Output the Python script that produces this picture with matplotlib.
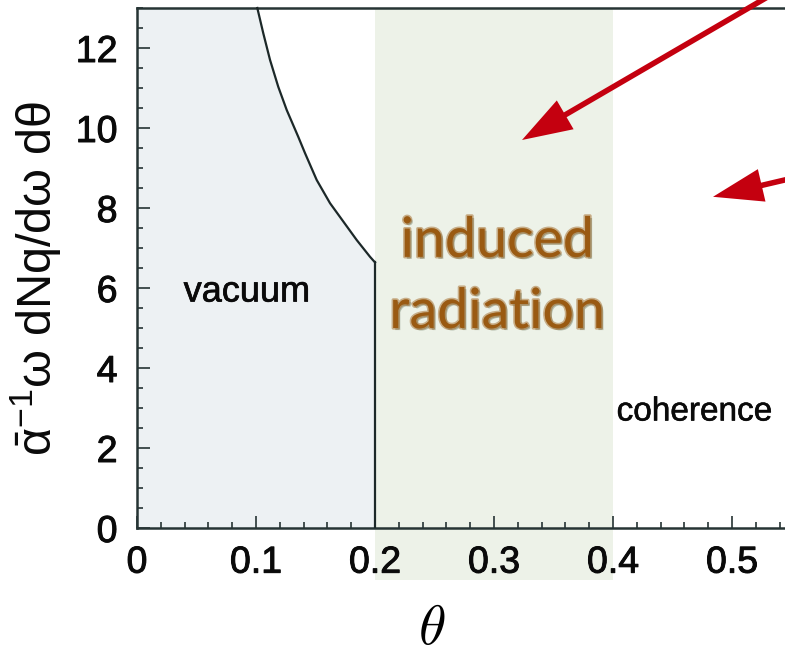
import matplotlib
matplotlib.use("Agg")
import matplotlib.pyplot as plt
import matplotlib.patheffects as pe
from matplotlib.patches import Rectangle, FancyArrowPatch
from matplotlib.ticker import MultipleLocator
from matplotlib.transforms import blended_transform_factory

# Vacuum boundary curve (theta, spectrum) and the step down at theta = 0.2
theta_curve = [0.1011, 0.1061, 0.1118, 0.1187, 0.1258, 0.1355, 0.1412,
               0.1510, 0.1622, 0.1734, 0.1846, 0.1958, 0.2]
spec_curve = [13.0, 12.37, 11.70, 11.03, 10.45, 9.78, 9.37,
              8.70, 8.12, 7.66, 7.20, 6.78, 6.64]
theta_cut = 0.2

# Region boundaries
induced_range = (0.2, 0.4)

x_ticks = [0, 0.1, 0.2, 0.3, 0.4, 0.5]
x_tick_labels = ["0", "0.1", "0.2", "0.3", "0.4", "0.5"]
y_ticks = [0, 2, 4, 6, 8, 10, 12]
y_tick_labels = ["0", "2", "4", "6", "8", "10", "12"]

x_max = 0.5445
y_max = 13.0

SANS = "Liberation Sans"
plt.rcParams["font.family"] = [SANS, "DejaVu Sans"]
plt.rcParams["mathtext.fontset"] = "custom"
plt.rcParams["mathtext.rm"] = SANS
plt.rcParams["mathtext.it"] = SANS
plt.rcParams["mathtext.bf"] = SANS

fig = plt.figure(figsize=(7.85, 6.59), dpi=100)
ax = fig.add_axes([137 / 785, 1 - 528 / 659, 1 - 137 / 785, (528 - 8) / 659])
ax.set_xlim(0, x_max)
ax.set_ylim(0, y_max)

spine_col = "#263434"
line_col = "#1c2828"
ink = "#0a0a0a"
heavy = [pe.withStroke(linewidth=0.7, foreground=ink)]

# Shaded regions
vac_x = [0.0] + theta_curve
vac_y = [y_max] + spec_curve
ax.fill_between(vac_x, 0, vac_y, color="#edf1f3", lw=0, zorder=0)

trans = blended_transform_factory(ax.transData, ax.transAxes)
ax.add_patch(Rectangle((induced_range[0], -0.1), induced_range[1] - induced_range[0], 1.1,
                       transform=trans, color="#edf2e8", lw=0, zorder=-1, clip_on=False))

# Vacuum boundary
ax.plot(theta_curve, spec_curve, color=line_col, lw=1.6, zorder=3, clip_on=False,
        solid_joinstyle="round")
ax.plot([theta_cut, theta_cut], [0, spec_curve[-1]], color=line_col, lw=1.6, zorder=3)

# Axes styling
for side in ("left", "bottom", "top"):
    ax.spines[side].set_linewidth(1.8)
    ax.spines[side].set_color(spine_col)
ax.spines["right"].set_visible(False)

ax.set_xticks(x_ticks)
ax.set_xticklabels(x_tick_labels)
ax.set_yticks(y_ticks)
ax.set_yticklabels(y_tick_labels)
ax.xaxis.set_minor_locator(MultipleLocator(0.02))
ax.yaxis.set_minor_locator(MultipleLocator(0.5))
ax.tick_params(which="both", direction="in", color=spine_col, width=1.2,
               top=False, right=False, labelsize=27, labelcolor=ink)
ax.tick_params(which="major", length=9)
ax.tick_params(which="minor", length=4.5)
ax.tick_params(axis="x", which="major", pad=12)
ax.tick_params(axis="y", which="major", pad=14)
for lab in ax.get_xticklabels() + ax.get_yticklabels():
    lab.set_path_effects(heavy)

ax.set_xlabel(r"$\theta$", fontsize=40, math_fontfamily="cm", va="center")
ax.xaxis.set_label_coords((432 - 137) / 648, (528 - 630) / 520)
ax.set_ylabel(r"$\bar{\alpha}^{-1}\omega$ dNq/d$\omega$ d$\theta$", fontsize=35, va="center",
              color=ink)
ax.yaxis.set_label_coords((36 - 137) / 648, (528 - 279) / 520)

# Region labels
ax.text(0.0924, 5.9, "vacuum", fontsize=26, ha="center", va="center", color=ink,
        path_effects=[pe.withStroke(linewidth=0.5, foreground=ink)])
ax.text(0.403, 2.9, "coherence", fontsize=24, ha="left", va="center", color=ink,
        path_effects=[pe.withStroke(linewidth=0.4, foreground=ink)])

brown = "#9a5a12"
soft = [pe.SimplePatchShadow(offset=(1.5, -1.5), shadow_rgbFace="#6f7d66", alpha=0.45),
        pe.Stroke(linewidth=2.4, foreground=brown, alpha=0.45),
        pe.Normal()]
ax.text(0.3025, 6.78, "induced", fontsize=40, family="Lato", ha="center", va="baseline",
        color=brown, path_effects=soft)
ax.text(0.3025, 5.0, "radiation", fontsize=40, family="Lato", ha="center", va="baseline",
        color=brown, path_effects=soft)

# Pointer arrows
red = "#c4000f"
for tail, tip in (((0.537, 13.4), (0.3235, 9.7)), ((0.58, 8.95), (0.4840, 8.28))):
    ax.add_patch(FancyArrowPatch(tail, tip, arrowstyle="simple,head_length=36,head_width=24,tail_width=4",
                                 mutation_scale=1, color=red, lw=0, shrinkA=0, shrinkB=0,
                                 clip_on=False, zorder=5))

fig.savefig("out.png", dpi=100)
